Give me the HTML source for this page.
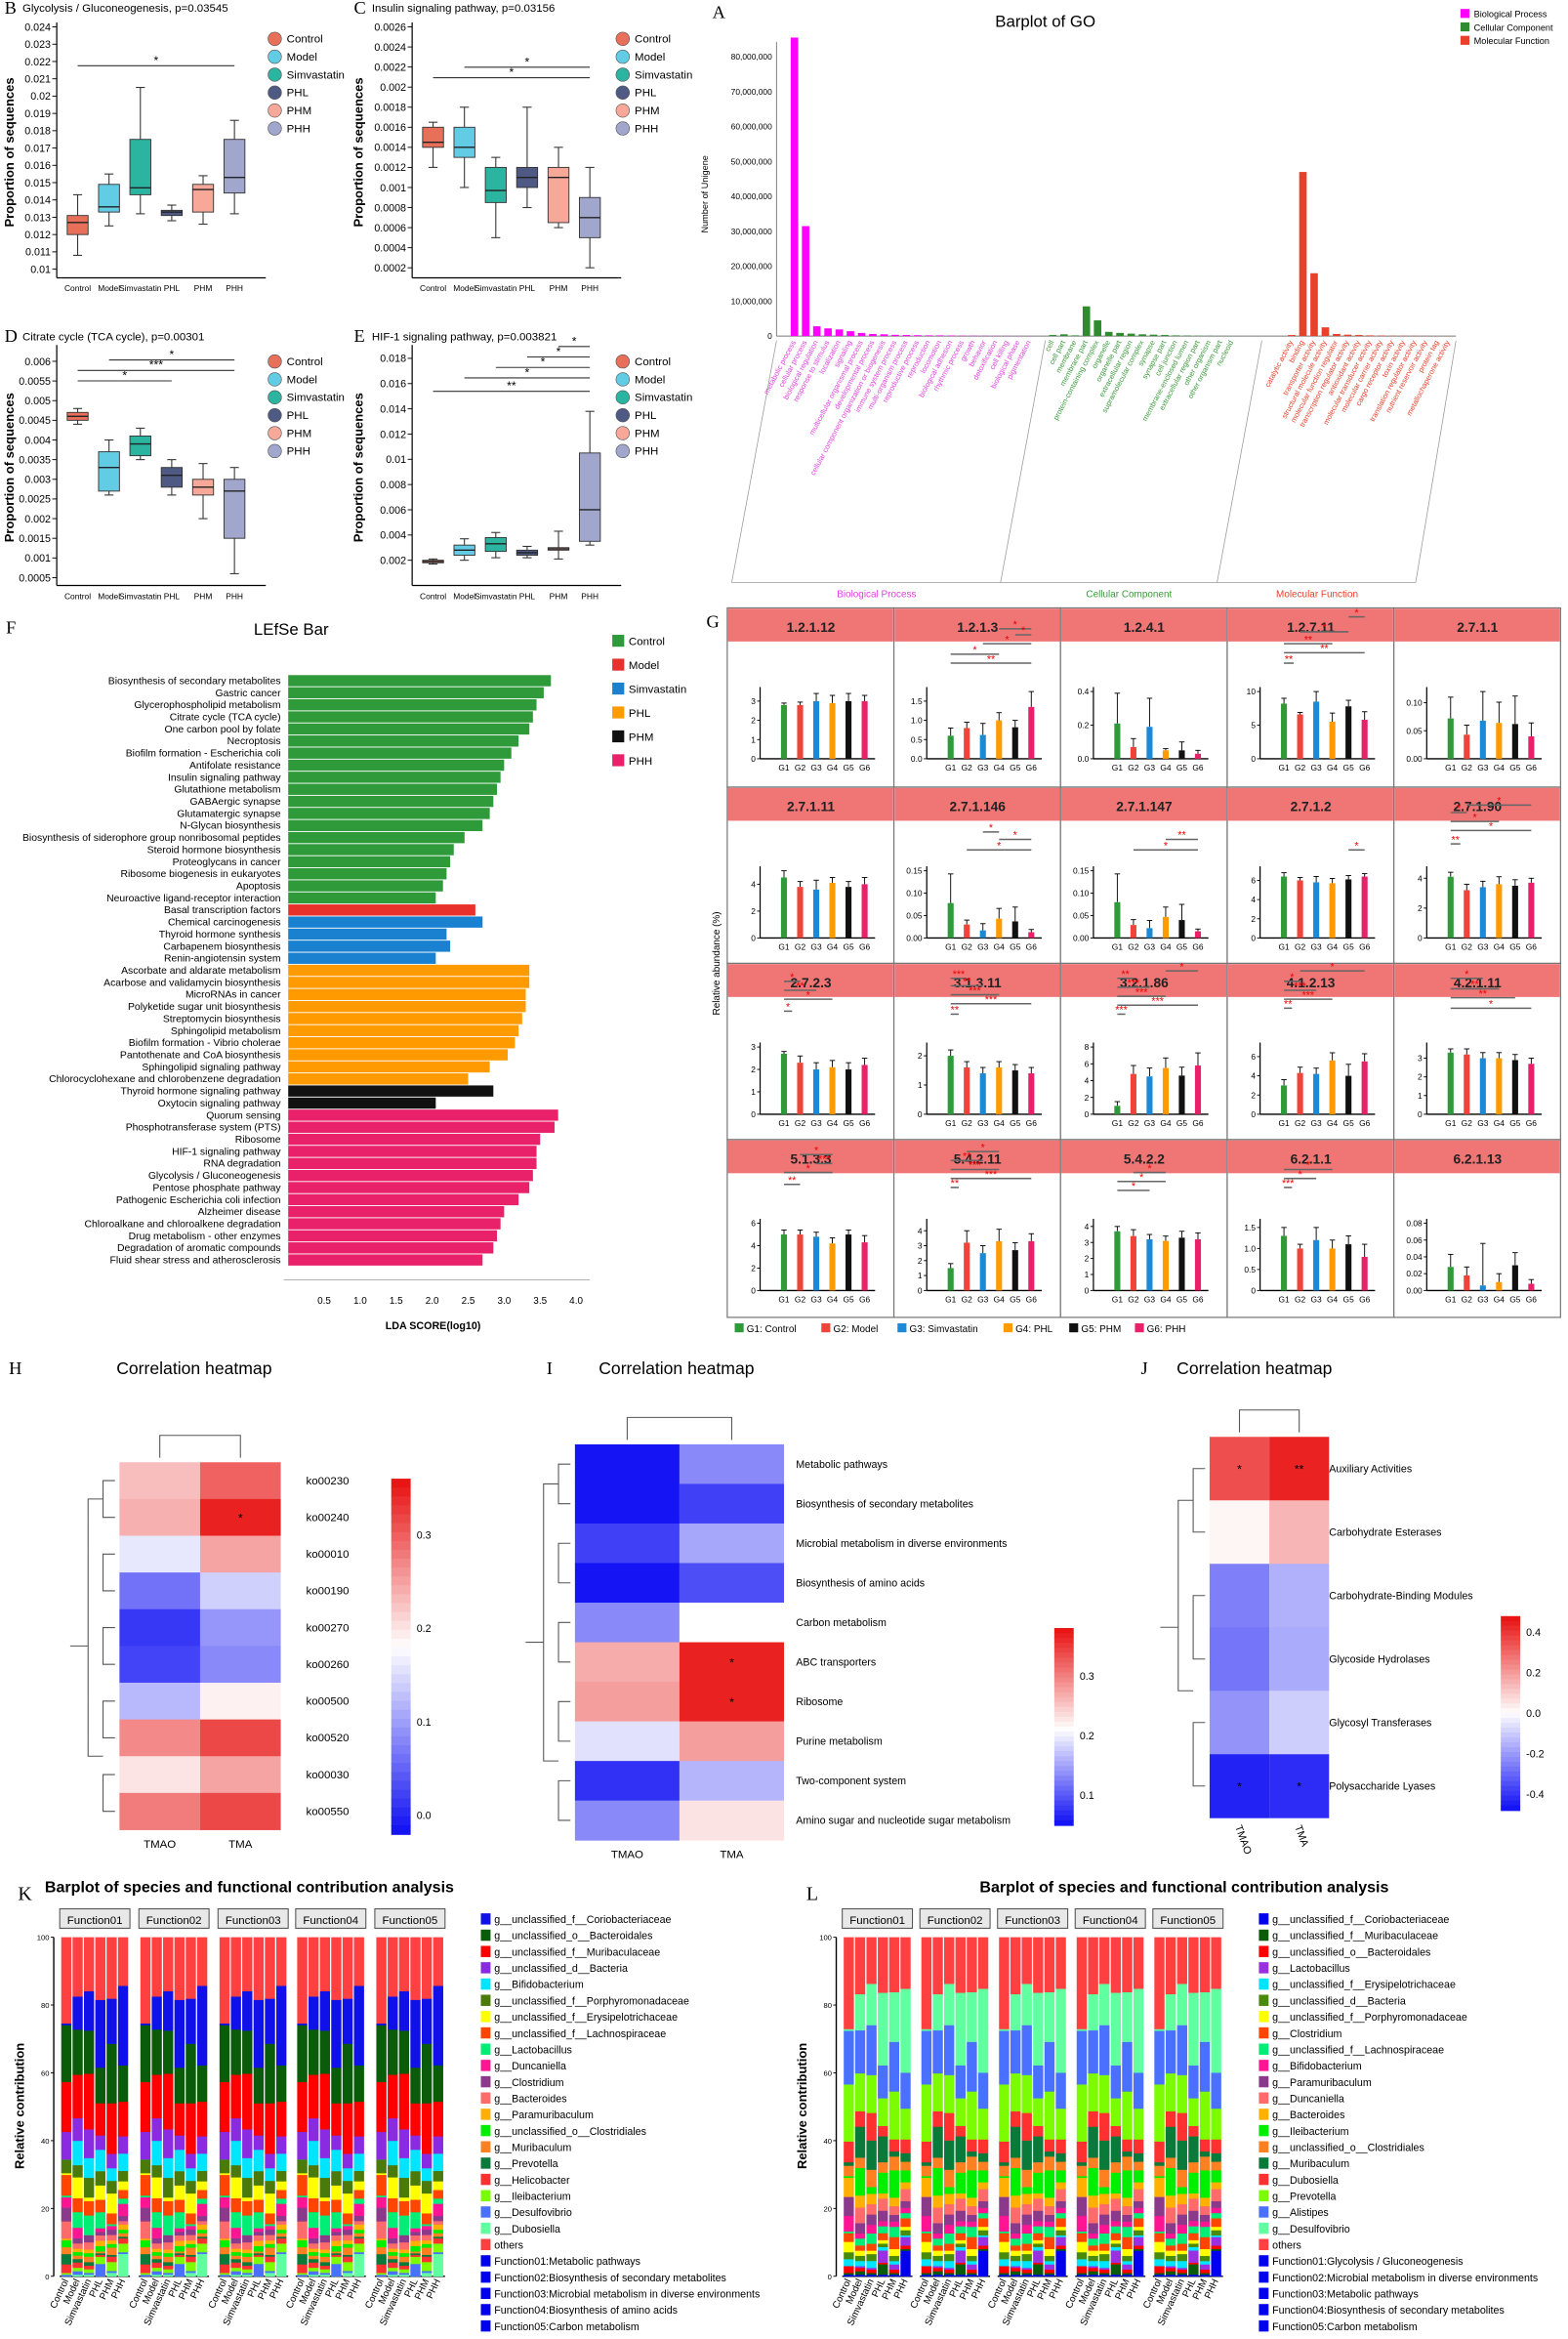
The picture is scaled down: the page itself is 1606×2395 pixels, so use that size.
<!DOCTYPE html>
<html><head><meta charset="utf-8">
<style>
html,body{margin:0;padding:0;background:#fff;}
svg{display:block;font-family:"Liberation Sans",sans-serif;}
.serif{font-family:"Liberation Serif",serif;}
</style></head>
<body>
<svg id="fig" xmlns="http://www.w3.org/2000/svg" width="1606" height="2395" viewBox="0 0 1050 1566" preserveAspectRatio="none"></svg>
<script>
// ---------- DATA ----------
const boxGroups=['Control','Model','Simvastatin','PHL','PHM','PHH'];
const boxColors=['#e8705a','#62cce4','#2bb5a0','#4f5a84','#f7a898','#a0a6cc'];
const boxB=[[0.0108,0.0120,0.0127,0.0131,0.0143],[0.0125,0.0133,0.0136,0.0149,0.0155],[0.0132,0.0143,0.0147,0.0175,0.0205],[0.0128,0.0131,0.0133,0.0134,0.0137],[0.0126,0.0133,0.0146,0.0149,0.0154],[0.0132,0.0144,0.0153,0.0175,0.0186]];
const boxC=[[0.0012,0.0014,0.00145,0.0016,0.00165],[0.0010,0.0013,0.0014,0.0016,0.0018],[0.0005,0.00085,0.00097,0.0012,0.0013],[0.0008,0.0010,0.0011,0.0012,0.0018],[0.0006,0.00065,0.0011,0.0012,0.0014],[0.0002,0.0005,0.0007,0.0009,0.0012]];
const boxD=[[0.0044,0.0045,0.0046,0.0047,0.0048],[0.0026,0.0027,0.0033,0.0037,0.0040],[0.0035,0.0036,0.0039,0.0041,0.0043],[0.0026,0.0028,0.0031,0.0033,0.0035],[0.0020,0.0026,0.0028,0.0030,0.0034],[0.0006,0.0015,0.0027,0.0030,0.0033]];
const boxE=[[0.0017,0.0018,0.0019,0.0020,0.0021],[0.0020,0.0024,0.0028,0.0032,0.0037],[0.0022,0.0027,0.0033,0.0038,0.0042],[0.0022,0.0024,0.0026,0.0028,0.0031],[0.0021,0.0028,0.0029,0.0030,0.0043],[0.0032,0.0035,0.0060,0.0105,0.0138]];
const ticksB=[0.01,0.011,0.012,0.013,0.014,0.015,0.016,0.017,0.018,0.019,0.02,0.021,0.022,0.023,0.024];
const ticksC=[0.0002,0.0004,0.0006,0.0008,0.001,0.0012,0.0014,0.0016,0.0018,0.002,0.0022,0.0024,0.0026];
const ticksD=[0.0005,0.001,0.0015,0.002,0.0025,0.003,0.0035,0.004,0.0045,0.005,0.0055,0.006];
const ticksE=[0.002,0.004,0.006,0.008,0.01,0.012,0.014,0.016,0.018];

const goBP=['metabolic process','cellular process','biological regulation','response to stimulus','localization','signaling','multicellular organismal process','developmental process','cellular component organization or biogenesis','immune system process','multi-organism process','reproductive process','reproduction','locomotion','biological adhesion','rhythmic process','growth','behavior','detoxification','cell killing','biological phase','pigmentation'];
const goBPv=[85.5,31.5,2.8,2.2,1.9,1.4,0.9,0.6,0.5,0.35,0.3,0.25,0.2,0.2,0.15,0.1,0.1,0.08,0.06,0.05,0.04,0.03];
const goCC=['cell','cell part','membrane','membrane part','protein-containing complex','organelle','organelle part','extracellular region','supramolecular complex','synapse','synapse part','cell junction','membrane-enclosed lumen','extracellular region part','other organism','other organism part','nucleoid'];
const goCCv=[0.3,0.5,0.2,8.5,4.5,1.2,0.9,0.7,0.5,0.4,0.3,0.2,0.15,0.1,0.08,0.05,0.03];
const goMF=['catalytic activity','binding','transporter activity','structural molecule activity','molecular function regulator','transcription regulator activity','antioxidant activity','molecular transducer activity','molecular carrier activity','cargo receptor activity','toxin activity','translation regulator activity','nutrient reservoir activity','protein tag','metallochaperone activity'];
const goMFv=[0.3,47,18,2.5,0.6,0.4,0.3,0.2,0.15,0.1,0.08,0.06,0.05,0.03,0.02];
const goTicks=[0,10,20,30,40,50,60,70,80];

const lefseNames=['Biosynthesis of secondary metabolites','Gastric cancer','Glycerophospholipid metabolism','Citrate cycle (TCA cycle)','One carbon pool by folate','Necroptosis','Biofilm formation - Escherichia coli','Antifolate resistance','Insulin signaling pathway','Glutathione metabolism','GABAergic synapse','Glutamatergic synapse','N-Glycan biosynthesis','Biosynthesis of siderophore group nonribosomal peptides','Steroid hormone biosynthesis','Proteoglycans in cancer','Ribosome biogenesis in eukaryotes','Apoptosis','Neuroactive ligand-receptor interaction','Basal transcription factors','Chemical carcinogenesis','Thyroid hormone synthesis','Carbapenem biosynthesis','Renin-angiotensin system','Ascorbate and aldarate metabolism','Acarbose and validamycin biosynthesis','MicroRNAs in cancer','Polyketide sugar unit biosynthesis','Streptomycin biosynthesis','Sphingolipid metabolism','Biofilm formation - Vibrio cholerae','Pantothenate and CoA biosynthesis','Sphingolipid signaling pathway','Chlorocyclohexane and chlorobenzene degradation','Thyroid hormone signaling pathway','Oxytocin signaling pathway','Quorum sensing','Phosphotransferase system (PTS)','Ribosome','HIF-1 signaling pathway','RNA degradation','Glycolysis / Gluconeogenesis','Pentose phosphate pathway','Pathogenic Escherichia coli infection','Alzheimer disease','Chloroalkane and chloroalkene degradation','Drug metabolism - other enzymes','Degradation of aromatic compounds','Fluid shear stress and atherosclerosis'];
const lefseVals=[3.65,3.55,3.45,3.4,3.35,3.2,3.1,3.0,2.95,2.9,2.85,2.8,2.7,2.45,2.3,2.25,2.2,2.15,2.05,2.6,2.7,2.2,2.25,2.05,3.35,3.35,3.3,3.3,3.25,3.2,3.15,3.05,2.8,2.5,2.85,2.05,3.75,3.7,3.5,3.45,3.45,3.4,3.35,3.2,3.0,2.95,2.9,2.85,2.7];
const lefseGroup=[0,0,0,0,0,0,0,0,0,0,0,0,0,0,0,0,0,0,0,1,2,2,2,2,3,3,3,3,3,3,3,3,3,3,4,4,5,5,5,5,5,5,5,5,5,5,5,5,5];
const lefseLegend=['Control','Model','Simvastatin','PHL','PHM','PHH'];
const lefseColors=['#2e9a3a','#e8312a','#1a80d0','#ff9a00','#111111','#e8216a'];
const lefseTicks=[0.5,1.0,1.5,2.0,2.5,3.0,3.5,4.0];

const gNames=['1.2.1.12','1.2.1.3','1.2.4.1','1.2.7.11','2.7.1.1','2.7.1.11','2.7.1.146','2.7.1.147','2.7.1.2','2.7.1.90','2.7.2.3','3.1.3.11','3.2.1.86','4.1.2.13','4.2.1.11','5.1.3.3','5.4.2.11','5.4.2.2','6.2.1.1','6.2.1.13'];
const gVals=[[2.8,2.8,3.0,2.9,3.0,3.0],[0.6,0.8,0.62,1.0,0.82,1.35],[0.21,0.07,0.19,0.05,0.05,0.03],[8.2,6.6,8.5,5.5,7.8,5.8],[0.072,0.043,0.068,0.064,0.062,0.04],
[4.5,3.8,3.6,4.1,3.8,4.0],[0.078,0.03,0.017,0.043,0.037,0.013],[0.08,0.029,0.022,0.047,0.04,0.015],[6.4,6.0,5.8,5.7,6.1,6.4],[4.1,3.2,3.4,3.6,3.5,3.7],
[2.7,2.3,2.0,2.1,2.0,2.2],[2.0,1.6,1.4,1.6,1.5,1.4],[1.0,4.8,4.5,5.5,4.6,5.8],[3.0,4.3,4.2,5.6,4.0,5.5],[3.3,3.2,3.0,3.0,2.9,2.7],
[5.0,5.0,4.8,4.2,5.0,4.3],[1.5,3.2,2.5,3.3,2.7,3.3],[3.7,3.4,3.2,3.1,3.3,3.2],[1.3,1.0,1.2,1.0,1.1,0.8],[0.028,0.018,0.006,0.01,0.03,0.008]];
const gErr=[[0.1,0.15,0.4,0.4,0.4,0.3],[0.2,0.15,0.3,0.2,0.18,0.4],[0.18,0.05,0.17,0.01,0.05,0.02],[0.8,0.3,1.5,1.3,0.9,1.2],[0.038,0.017,0.052,0.037,0.05,0.024],
[0.5,0.4,0.7,0.4,0.4,0.5],[0.065,0.01,0.015,0.023,0.032,0.006],[0.063,0.012,0.017,0.022,0.035,0.005],[0.4,0.3,0.6,0.5,0.4,0.3],[0.3,0.4,0.4,0.5,0.4,0.3],
[0.1,0.3,0.3,0.3,0.3,0.3],[0.2,0.2,0.2,0.2,0.2,0.2],[0.5,1.0,1.0,1.2,1.0,1.5],[0.6,0.6,0.6,0.8,1.2,0.8],[0.2,0.3,0.3,0.3,0.3,0.3],
[0.4,0.4,0.4,0.5,0.4,0.6],[0.3,0.8,0.5,0.8,0.5,0.5],[0.3,0.4,0.3,0.3,0.4,0.4],[0.2,0.1,0.3,0.2,0.2,0.3],[0.015,0.01,0.05,0.01,0.015,0.005]];
const gMax=[3.5,1.75,0.4,10,0.12,5,0.15,0.15,7,4.5,3,2.3,8,7,3.6,6,4.5,4.2,1.6,0.08];
const gTicks=[['0','1','2','3'],['0.0','0.5','1.0','1.5'],['0.0','0.2','0.4'],['0','5','10'],['0.00','0.05','0.10'],
['0','2','4'],['0.00','0.05','0.10','0.15'],['0.00','0.05','0.10','0.15'],['0','2','4','6'],['0','2','4'],
['0','1','2','3'],['0','1','2'],['0','2','4','6','8'],['0','2','4','6'],['0','1','2','3'],
['0','2','4','6'],['0','1','2','3','4'],['0','1','2','3','4'],['0','0.5','1.0','1.5'],['0.00','0.02','0.04','0.06','0.08']];
const gSig=[[],[[3,5,14,'*'],[4,5,18,'*'],[2,5,24,'*'],[0,3,31,'*'],[0,5,37,'**']],[],[[4,5,6,'*'],[1,4,16,'*'],[0,3,24,'**'],[0,5,30,'**'],[0,0.6,37,'**']],[],
[],[[2,3,30,'*'],[3,5,35,'*'],[1,5,42,'*']],[[3,5,35,'**'],[1,5,42,'*']],[[4,5,42,'*']],[[1,5,12,'*'],[0,1,17,'*'],[0,3,23,'*'],[0,5,29,'*'],[0,0.6,38,'**']],
[[0,1,12,'*'],[0,2,18,'**'],[0,3,24,'*'],[0,0.5,32,'*']],[[0,1,10,'***'],[0,2,15,'**'],[0,3,21,'***'],[0,5,27,'***'],[0,0.5,34,'**']],[[3,5,5,'*'],[0,1,10,'**'],[0,2,16,'***'],[0,3,22,'***'],[0,5,28,'***'],[0,0.5,34,'***']],[[1,5,5,'*'],[0,1,12,'*'],[0,2,18,'***'],[0,3,24,'***'],[0,0.5,30,'**']],[[0,2,10,'*'],[0,3,17,'**'],[0,4,23,'**'],[0,5,30,'*']],
[[1,3,10,'*'],[2,3,16,'***'],[0,3,22,'*'],[0,1,30,'**']],[[1,3,8,'*'],[0,2,14,'**'],[0,3,20,'***'],[0,5,26,'***'],[0,0.5,32,'**']],[[1,3,22,'*'],[0,3,28,'*'],[0,2,34,'*']],[[0,3,20,'*'],[0,2,26,'*'],[0,0.5,32,'***']],[]];
const gColors=['#2e9a3a','#f0443a','#1a8ad8','#ff9a00','#111111','#e8216a'];
const gLegend=['G1: Control','G2: Model','G3: Simvastatin','G4: PHL','G5: PHM','G6: PHH'];

const hRows=['ko00230','ko00240','ko00010','ko00190','ko00270','ko00260','ko00500','ko00520','ko00030','ko00550'];
const hTMAO=[0.23,0.24,0.16,0.06,0.01,0.02,0.12,0.27,0.20,0.28];
const hTMA=[0.30,0.35,0.25,0.14,0.09,0.08,0.19,0.32,0.25,0.32];
const hTicks=[0.0,0.1,0.2,0.3];
const iRows=['Metabolic pathways','Biosynthesis of secondary metabolites','Microbial metabolism in diverse environments','Biosynthesis of amino acids','Carbon metabolism','ABC transporters','Ribosome','Purine metabolism','Two-component system','Amino sugar and nucleotide sugar metabolism'];
const iTMAO=[0.03,0.03,0.08,0.04,0.13,0.27,0.28,0.19,0.07,0.13];
const iTMA=[0.13,0.08,0.15,0.09,0.21,0.37,0.37,0.28,0.16,0.23];
const iTicks=[0.1,0.2,0.3];
const jRows=['Auxiliary Activities','Carbohydrate Esterases','Carbohydrate-Binding Modules','Glycoside Hydrolases','Glycosyl Transferases','Polysaccharide Lyases'];
const jTMAO=[0.36,0.02,-0.26,-0.28,-0.22,-0.45];
const jTMA=[0.45,0.15,-0.16,-0.17,-0.1,-0.43];
const jTicks=[-0.4,-0.2,0.0,0.2,0.4];

const kSpecies=['g__unclassified_f__Coriobacteriaceae','g__unclassified_o__Bacteroidales','g__unclassified_f__Muribaculaceae','g__unclassified_d__Bacteria','g__Bifidobacterium','g__unclassified_f__Porphyromonadaceae','g__unclassified_f__Erysipelotrichaceae','g__unclassified_f__Lachnospiraceae','g__Lactobacillus','g__Duncaniella','g__Clostridium','g__Bacteroides','g__Paramuribaculum','g__unclassified_o__Clostridiales','g__Muribaculum','g__Prevotella','g__Helicobacter','g__Ileibacterium','g__Desulfovibrio','g__Dubosiella','others'];
const kColors=['#1010e8','#0a5c0a','#ff0000','#8a2be2','#00e5ff','#4a7a0a','#ffff00','#ff4500','#00ee76','#ff1493','#8b3a8b','#ff6a6a','#ffb000','#00ee00','#ff8020','#0a7a3a','#ff3030','#7cfc00','#4a70ff','#60ffa0','#ff4040'];
// per species (top->bottom below "others"), values per group Control..PHH
const kVals=[[0.5,9.5,11,19,12.5,23],[16.5,13,12,10,16.5,10.5],[14.5,12.5,15.5,9,14,10],[8,6.5,8,4,4,5],[0,7,5.5,6,3.5,5],[4,3.5,5.5,4,3.5,3],[0.5,6,1,4,5.5,2.5],[6,4,4,3.5,3,2.5],[0.5,4.5,5.5,4.5,0.5,1.5],[3,3,0,1,1,3.5],[4,1.5,2,1,1.5,1.5],[5,1.5,2,1.5,1.5,1],[0.5,1,1,1.5,1,1.5],[2,1,1,1.5,1,1],[2,1,1.5,0.5,2,1],[3,1,1,0.5,0.5,0.5],[2.5,1.5,1,0.5,1.5,1.5],[0.5,1,1,2,2.5,2.5],[0.5,1,0.5,3.5,0.5,0.5],[0,0.5,0.5,0,1,6.5],[25,17,15,17.5,17,14]];
const kFunctions=['Function01:Metabolic pathways','Function02:Biosynthesis of secondary metabolites','Function03:Microbial metabolism in diverse environments','Function04:Biosynthesis of amino acids','Function05:Carbon metabolism'];
const lSpecies=['g__unclassified_f__Coriobacteriaceae','g__unclassified_f__Muribaculaceae','g__unclassified_o__Bacteroidales','g__Lactobacillus','g__unclassified_f__Erysipelotrichaceae','g__unclassified_d__Bacteria','g__unclassified_f__Porphyromonadaceae','g__Clostridium','g__unclassified_f__Lachnospiraceae','g__Bifidobacterium','g__Paramuribaculum','g__Duncaniella','g__Bacteroides','g__Ileibacterium','g__unclassified_o__Clostridiales','g__Muribaculum','g__Dubosiella','g__Prevotella','g__Alistipes','g__Desulfovibrio','others'];
const lColors=['#0000ee','#0a5c0a','#ff0000','#9a30e0','#00e5ff','#4a8a0a','#ffff00','#ff4500','#00ee76','#ff1493','#8b3a8b','#ff6a6a','#ffb000','#00ee00','#ff8020','#0a7a3a','#ff3030','#7cfc00','#4a70ff','#60ffa0','#ff4040'];
// bottom->top
const lVals=[[0.5,0.5,0.5,0.5,0.5,7.5],[0.5,1,0.5,3,0.5,0.5],[2,1,1,0.5,1,1],[0,0.5,0.5,3.5,1.5,2.5],[2,1.5,2,1,1,0.5],[2,1.5,2,1,1.5,1.5],[3,1.5,1,1,2,1],[2.5,1.5,2,2,3.5,2.5],[0.5,2,3,2,3,1.5],[4.5,1.5,2.5,1.5,1.5,1.5],[5.5,3,3,3,2,2],[0,4.5,3,3.5,2.5,3.5],[5.5,3.5,3,1.5,2.5,2],[0.5,8,2,6,8,3.5],[3,3,5,3,4,2.5],[1,9,8.5,7.5,1.5,2.5],[6,4.5,8,3,3.5,4],[16.5,11,11,8,14,9],[15.5,12.5,14.5,9.5,14.5,10.5],[0.5,10.5,12,21,14.5,24.5],[26.5,16.5,13.5,16,16,15]];
const lFunctions=['Function01:Glycolysis / Gluconeogenesis','Function02:Microbial metabolism in diverse environments','Function03:Metabolic pathways','Function04:Biosynthesis of secondary metabolites','Function05:Carbon metabolism'];
const stackGroups=['Control','Model','Simvastatin','PHL','PHM','PHH'];

// ---------- HELPERS ----------
const NS='http://www.w3.org/2000/svg';
const svg=document.getElementById('fig');
function mk(tag,a,p){const e=document.createElementNS(NS,tag);for(const k in a)e.setAttribute(k,a[k]);(p||svg).appendChild(e);return e;}
function tx(x,y,s,a,p){const e=mk('text',Object.assign({x:x,y:y},a||{}),p);e.textContent=s;return e;}
function grp(name){const g=mk('g',{});return g;}

// ---------- BOX PLOTS ----------
function boxPanel(name,letter,title,ox,cfg,data,ticks,sigs){
  const g=grp(name);
  const L=tx(ox+3,cfg.titleY+1,letter,{'font-size':12,'class':'serif'},g);
  
  
  const t=tx(ox+15,cfg.titleY,title,{'font-size':7.5},g);
  
  
  const y=v=>cfg.yb-(v-cfg.ymin)/(cfg.ymax-cfg.ymin)*(cfg.yb-cfg.yt);
  mk('line',{x1:cfg.ax,y1:cfg.yt-3,x2:cfg.ax,y2:cfg.yb,stroke:'#000','stroke-width':0.8},g);
  mk('line',{x1:cfg.ax,y1:cfg.yb,x2:cfg.ax+140,y2:cfg.yb,stroke:'#000','stroke-width':0.8},g);
  ticks.forEach(v=>{const yy=y(v);mk('line',{x1:cfg.ax-3,y1:yy,x2:cfg.ax,y2:yy,stroke:'#000','stroke-width':0.6},g);
    const tl=tx(cfg.ax-4,yy+2.5,String(+v.toFixed(5)),{'font-size':7,'text-anchor':'end'},g);
    
    });
  const yl=tx(0,0,'Proportion of sequences',{'font-size':8.5,'font-weight':'bold','text-anchor':'middle',transform:`translate(${ox+9},${(cfg.yt+cfg.yb)/2}) rotate(-90)`},g);
  
  
  data.forEach((d,i)=>{const cx=cfg.ax+14+i*21;
    mk('line',{x1:cx,y1:y(d[0]),x2:cx,y2:y(d[4]),stroke:'#333','stroke-width':0.7},g);
    mk('line',{x1:cx-3,y1:y(d[0]),x2:cx+3,y2:y(d[0]),stroke:'#333','stroke-width':0.7},g);
    mk('line',{x1:cx-3,y1:y(d[4]),x2:cx+3,y2:y(d[4]),stroke:'#333','stroke-width':0.7},g);
    const b=mk('rect',{x:cx-7,y:y(d[3]),width:14,height:Math.max(0.8,y(d[1])-y(d[3])),fill:boxColors[i],stroke:'#333','stroke-width':0.6},g);
    
    
    mk('line',{x1:cx-7,y1:y(d[2]),x2:cx+7,y2:y(d[2]),stroke:'#222','stroke-width':0.9},g);
    const xl=tx(cx,cfg.yb+9,boxGroups[i],{'font-size':5.5,'text-anchor':'middle'},g);
    
    });
  sigs.forEach(s=>{const x1=cfg.ax+14+s[0]*21,x2=cfg.ax+14+s[1]*21;
    mk('line',{x1:x1,y1:s[2],x2:x2,y2:s[2],stroke:'#333','stroke-width':0.7},g);
    tx((x1+x2)/2,s[2]-1,s[3],{'font-size':8,'text-anchor':'middle'},g);});
  boxGroups.forEach((n,i)=>{const ly=cfg.yt+8+i*12;
    const c=mk('circle',{cx:cfg.lx,cy:ly,r:4.5,fill:boxColors[i],stroke:'#555','stroke-width':0.4},g);
    
    
    const lt=tx(cfg.lx+8,ly+2.5,n,{'font-size':7.5},g);
    
    });
}
boxPanel('panel-b-glycolysis','B','Glycolysis / Gluconeogenesis, p=0.03545',0,{titleY:8,ax:38,yt:18,yb:186,ymin:0.0095,ymax:0.024,lx:184},boxB,ticksB,[[0,5,44,'*']]);
boxPanel('panel-c-insulin','C','Insulin signaling pathway, p=0.03156',234,{titleY:8,ax:276,yt:18,yb:186,ymin:0.0001,ymax:0.0026,lx:417},boxC,ticksC,[[1,5,45,'*'],[0,5,52,'*']]);
boxPanel('panel-d-citrate','D','Citrate cycle (TCA cycle), p=0.00301',0,{titleY:228,ax:38,yt:234,yb:392,ymin:0.0003,ymax:0.0063,lx:184},boxD,ticksD,[[1,5,241,'*'],[0,5,248,'***'],[0,3,255,'*']]);
boxPanel('panel-e-hif1','E','HIF-1 signaling pathway, p=0.003821',234,{titleY:228,ax:276,yt:234,yb:392,ymin:0,ymax:0.0187,lx:417},boxE,ticksE,[[4,5,232,'*'],[3,5,239,'*'],[2,5,246,'*'],[1,5,253,'*'],[0,5,262,'**']]);

// ---------- GO BARPLOT ----------
(function(){
  const g=grp('panel-a-go-barplot');
  const L=tx(477,12,'A',{'font-size':12,'class':'serif'},g);
  
  
  const t=tx(700,18,'Barplot of GO',{'font-size':11,'text-anchor':'middle'},g);
  
  
  const yb=225,yt=38,ax=520;
  const y=v=>yb-v/80*(yb-yt);
  mk('line',{x1:ax,y1:28,x2:ax,y2:yb,stroke:'#777','stroke-width':0.6},g);
  mk('line',{x1:ax,y1:yb,x2:975,y2:yb,stroke:'#777','stroke-width':0.6},g);
  goTicks.forEach(v=>{const tl=tx(ax-3,y(v)+2,(v*1000000).toLocaleString('en-US'),{'font-size':5.5,'text-anchor':'end'},g);
    
    });
  const yl=tx(0,0,'Number of Unigene',{'font-size':6,'text-anchor':'middle',transform:'translate(474,130) rotate(-90)'},g);
  
  
  const sets=[[goBP,goBPv,532,'#ff00ff','#e040e0'],[goCC,goCCv,705,'#2e8b2e','#3a9a3a'],[goMF,goMFv,865,'#e8402a','#e8402a']];
  sets.forEach(s=>{s[0].forEach((n,i)=>{const x=s[2]+i*7.5;
    const b=mk('rect',{x:x-2.5,y:y(s[1][i]),width:5,height:yb-y(s[1][i]),fill:s[3]},g);
    
    
    const tl=tx(0,0,n,{'font-size':5,fill:s[4],'text-anchor':'end',transform:`translate(${x+1},${yb+4}) rotate(-62)`},g);
    
    });});
  [[520,228,490,390],[700,228,670,390],[845,228,815,390],[975,228,948,390],[490,390,948,390]].forEach(l=>mk('line',{x1:l[0],y1:l[1],x2:l[2],y2:l[3],stroke:'#999','stroke-width':0.5},g));
  [['Biological Process',587,'#e040e0'],['Cellular Component',756,'#3a9a3a'],['Molecular Function',882,'#e8402a']].forEach(c=>{const e=tx(c[1],400,c[0],{'font-size':6.5,fill:c[2],'text-anchor':'middle'},g);
    
    });
  [['Biological Process','#ff00ff'],['Cellular Component','#2e8b2e'],['Molecular Function','#e8402a']].forEach((c,i)=>{
    const r=mk('rect',{x:978,y:6+i*9,width:6,height:6,fill:c[1]},g);
    
    
    const e=tx(987,11.5+i*9,c[0],{'font-size':6},g);
    
    });
})();

// ---------- LEFSE ----------
(function(){
  const g=grp('panel-f-lefse');
  const L=tx(4,424,'F',{'font-size':12,'class':'serif'},g);
  
  
  const t=tx(195,425,'LEfSe Bar',{'font-size':11,'text-anchor':'middle'},g);
  
  
  const x0=193,sc=48.2,y0=452,bh=8.08;
  lefseNames.forEach((n,i)=>{const yy=y0+i*bh;
    const b=mk('rect',{x:x0,y:yy,width:lefseVals[i]*sc,height:bh-0.6,fill:lefseColors[lefseGroup[i]]},g);
    
    
    const tl=tx(188,yy+6,n,{'font-size':6.8,'text-anchor':'end'},g);
    
    });
  mk('line',{x1:x0-3,y1:857,x2:395,y2:857,stroke:'#888','stroke-width':0.4},g);
  lefseTicks.forEach(v=>{const e=tx(x0+v*sc,873,v.toFixed(1),{'font-size':6.5,'text-anchor':'middle'},g);
    
    });
  const xt=tx(290,890,'LDA SCORE(log10)',{'font-size':7,'font-weight':'bold','text-anchor':'middle'},g);
  
  
  lefseLegend.forEach((n,i)=>{const r=mk('rect',{x:410,y:425+i*16,width:8,height:8,fill:lefseColors[i]},g);
    
    
    const e=tx(421,432+i*16,n,{'font-size':7.5},g);
    
    });
})();

// ---------- G GRID ----------
(function(){
  const g=grp('panel-g-enzyme-grid');
  const L=tx(473,420,'G',{'font-size':12,'class':'serif'},g);
  
  
  const yl=tx(0,0,'Relative abundance (%)',{'font-size':6.5,'text-anchor':'middle',transform:'translate(482,645) rotate(-90)'},g);
  
  
  const rowY=[407,527,645,763];
  gNames.forEach((n,k)=>{const col=k%5,row=Math.floor(k/5);const cx0=487+col*111.6,cy0=rowY[row];
    const cg=mk('g',{},g);
    
    
    mk('rect',{x:cx0,y:cy0,width:111.6,height:(row<3?rowY[row+1]:882)-cy0,fill:'#fff',stroke:'#777','stroke-width':0.8},cg);
    mk('rect',{x:cx0+0.5,y:cy0+0.5,width:110.6,height:22,fill:'#f07575'},cg);
    const h=tx(cx0+56,cy0+16,n,{'font-size':9,'font-weight':'bold','text-anchor':'middle',fill:'#222'},cg);
    
    
    const yb=cy0+101,yt=cy0+56,ax=cx0+22;
    const y=v=>yb-v/gMax[k]*(yb-yt);
    mk('line',{x1:ax,y1:yt-3,x2:ax,y2:yb,stroke:'#000','stroke-width':0.8},cg);
    mk('line',{x1:ax,y1:yb,x2:cx0+99,y2:yb,stroke:'#000','stroke-width':0.9},cg);
    gTicks[k].forEach(s=>{const yy=y(parseFloat(s));mk('line',{x1:ax-2,y1:yy,x2:ax,y2:yy,stroke:'#000','stroke-width':0.6},cg);
      tx(ax-3,yy+2,s,{'font-size':5.5,'text-anchor':'end'},cg);});
    gVals[k].forEach((v,i)=>{const bx=cx0+38+i*10.8;
      mk('line',{x1:bx,y1:y(v),x2:bx,y2:y(v+gErr[k][i]),stroke:'#000','stroke-width':0.6},cg);
      mk('line',{x1:bx-1.8,y1:y(v+gErr[k][i]),x2:bx+1.8,y2:y(v+gErr[k][i]),stroke:'#000','stroke-width':0.6},cg);
      const b=mk('rect',{x:bx-2,y:y(v),width:4,height:yb-y(v),fill:gColors[i]},cg);
      
      
      tx(bx,yb+8,'G'+(i+1),{'font-size':5.5,'text-anchor':'middle'},cg);});
    gSig[k].forEach(s=>{const x1=cx0+38+s[0]*10.8,x2=cx0+38+s[1]*10.8;
      mk('line',{x1:x1,y1:cy0+s[2],x2:x2,y2:cy0+s[2],stroke:'#666','stroke-width':1},cg);
      tx((x1+x2)/2,cy0+s[2]-0.5,s[3],{'font-size':7,'fill':'#e00','text-anchor':'middle'},cg);});
  });
  gLegend.forEach((n,i)=>{const lx=[492,550,601,672,716,760][i];
    const r=mk('rect',{x:lx,y:886,width:6,height:6,fill:gColors[i]},g);
    
    
    const e=tx(lx+8,892,n,{'font-size':6.5},g);
    
    });
})();

// ---------- HEATMAPS ----------
function hcol(v,min,mid,max){let r,gg,b;
  if(v>=mid){const t=Math.min(1,(v-mid)/(max-mid));r=255-t*22;gg=255-t*235;b=255-t*235;}
  else{const t=Math.min(1,(mid-v)/(mid-min));r=255-t*235;gg=255-t*235;b=255-t*10;}
  return `rgb(${r|0},${gg|0},${b|0})`;}
function heat(name,letter,lx,title,tx0,cols,rows,cA,cB,y0,rh,rowLX,fs,sc,bar,ticks,stars,rotLbl){
  const g=grp(name);
  const L=tx(lx,920,letter,{'font-size':12,'class':'serif'},g);
  
  
  const t=tx(tx0,920,title,{'font-size':11.5,'text-anchor':'middle'},g);
  
  
  rows.forEach((n,i)=>{[cA,cB].forEach((arr,j)=>{
    const c=mk('rect',{x:cols[j],y:y0+i*rh,width:cols[j+1]-cols[j],height:rh+0.3,fill:hcol(arr[i],sc[0],sc[1],sc[2])},g);
    
    });
    const e=tx(rowLX,y0+i*rh+rh/2+2.5,n,{'font-size':fs},g);
    
    });
  stars.forEach(s=>tx((cols[s[1]]+cols[s[1]+1])/2,y0+s[0]*rh+rh/2+3,s[2],{'font-size':8,'text-anchor':'middle'},g));
  const yb=y0+rows.length*rh;
  ['TMAO','TMA'].forEach((n,j)=>{const cx=(cols[j]+cols[j+1])/2;
    const e=rotLbl?tx(0,0,n,{'font-size':7,transform:`translate(${cx-3},${yb+6}) rotate(70)`},g):tx(cx,yb+12,n,{'font-size':7.5,'text-anchor':'middle'},g);
    
    });
  const c1=(cols[0]+cols[1])/2,c2=(cols[1]+cols[2])/2;
  mk('path',{d:`M${c1},${y0-3}V${y0-18}H${c2}V${y0-3}`,fill:'none',stroke:'#555','stroke-width':0.7},g);
  // row dendrogram (schematic)
  const dx=cols[0]-3;let d='';
  for(let i=0;i<rows.length-1;i+=2){const a=y0+i*rh+rh/2,b=y0+(i+1)*rh+rh/2;d+=`M${dx},${a}H${dx-8}V${b}H${dx}`;}
  d+=`M${dx-8},${y0+rh}H${dx-18}V${y0+(rows.length-2)*rh}H${dx-8}M${dx-18},${y0+rows.length*rh/2}H${dx-30}`;
  const dd=mk('path',{d:d,fill:'none',stroke:'#555','stroke-width':0.7},g);
  
  
  // colorbar
  const n=40;for(let k=0;k<n;k++){const v=sc[2]-(sc[2]-sc[0])*k/(n-1);
    mk('rect',{x:bar[0],y:bar[1]+k*(bar[2]-bar[1])/n,width:13,height:(bar[2]-bar[1])/n+0.5,fill:hcol(v,sc[0],sc[1],sc[2])},g);}
  ticks.forEach(v=>{const yy=bar[2]-(v-sc[0])/(sc[2]-sc[0])*(bar[2]-bar[1]);
    const e=tx(bar[0]+17,yy+2.5,v.toFixed(1),{'font-size':7},g);
    
    });
}
heat('panel-h-heatmap','H',6,'Correlation heatmap',130,[80,134,188],hRows,hTMAO,hTMA,979,24.6,205,7.5,[-0.02,0.18,0.36],[262,990,1228],hTicks,[[1,1,'*']],false);
heat('panel-i-heatmap','I',366,'Correlation heatmap',453,[385,455,525],iRows,iTMAO,iTMA,967,26.5,533,7,[0.05,0.21,0.38],[706,1090,1222],iTicks,[[5,1,'*'],[6,1,'*']],false);
heat('panel-j-heatmap','J',764,'Correlation heatmap',840,[810,850,890],jRows,jTMAO,jTMA,962,42.5,890,7,[-0.48,0,0.48],[1005,1082,1212],jTicks,[[0,0,'*'],[0,1,'**'],[5,0,'*'],[5,1,'*']],true);

// ---------- STACKED BARS ----------
function stacked(name,letter,lx,titleX,gx,vals,colors,species,funcs,legX,order){
  const g=grp(name);
  const L=tx(lx,1272,letter,{'font-size':13,'class':'serif'},g);
  
  
  const t=tx(titleX,1267,'Barplot of species and functional contribution analysis',{'font-size':10.5,'font-weight':'bold','text-anchor':'middle'},g);
  
  
  const yb=1524,yt=1297;const y=v=>yb-v/100*(yb-yt);
  const ax=gx[0]-4;
  mk('line',{x1:ax,y1:yt,x2:ax,y2:yb,stroke:'#000','stroke-width':0.9},g);
  [0,20,40,60,80,100].forEach(v=>{mk('line',{x1:ax-2,y1:y(v),x2:ax,y2:y(v),stroke:'#000','stroke-width':0.6},g);tx(ax-3,y(v)+2,String(v),{'font-size':5,'text-anchor':'end'},g);});
  const yl=tx(0,0,'Relative contribution',{'font-size':8.5,'font-weight':'bold','text-anchor':'middle',transform:`translate(${ax-20},1410) rotate(-90)`},g);
  
  
  funcs.forEach((f,fi)=>{const x0=gx[fi];
    const s=mk('rect',{x:x0,y:1278,width:47,height:13,fill:'#e8e8e8',stroke:'#555','stroke-width':0.7},g);
    
    
    tx(x0+23.5,1288,'Function0'+(fi+1),{'font-size':7.5,'text-anchor':'middle'},g);
    mk('line',{x1:x0,y1:yb,x2:x0+47,y2:yb,stroke:'#000','stroke-width':0.9},g);
    stackGroups.forEach((gn,gi)=>{const bx=x0+1+gi*7.6;
      const tot=vals.reduce((a,v)=>a+v[gi],0);let acc=0;
      order.forEach(si=>{const v=vals[si][gi]/tot*100;
        const r=mk('rect',{x:bx,y:y(acc+v),width:6.8,height:y(acc)-y(acc+v)+0.2,fill:colors[si]},g);
        
        
        acc+=v;});
      const e=tx(0,0,gn,{'font-size':6.5,'text-anchor':'end',transform:`translate(${bx+5},${yb+3}) rotate(-65)`},g);
      
      });});
  const all=species.concat(funcs);
  all.forEach((n,i)=>{const ly=1281+i*10.9;
    const r=mk('rect',{x:legX,y:ly,width:6.5,height:7.5,fill:i<species.length?colors[i]:'#0000ee'},g);
    
    
    const e=tx(legX+9,ly+6.5,n,{'font-size':7},g);
    
    });
}
const kOrder=[19,18,17,16,15,14,13,12,11,10,9,8,7,6,5,4,3,2,1,0,20];
const lOrder=[0,1,2,3,4,5,6,7,8,9,10,11,12,13,14,15,16,17,18,19,20];
stacked('panel-k-stacked','K',12,167,[40,93,146,198,251],kVals,kColors,kSpecies,kFunctions,322,kOrder);
stacked('panel-l-stacked','L',540,793,[564,616,668,720,772],lVals,lColors,lSpecies,lFunctions,843,lOrder);
</script>
</body></html>
